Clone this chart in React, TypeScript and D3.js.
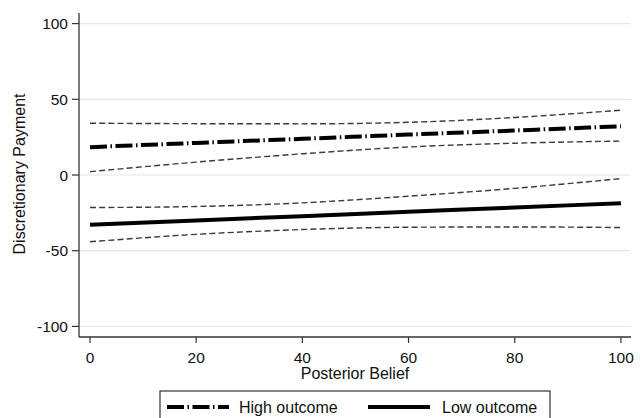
import React from "react";
import * as d3 from "d3";

const beliefs = [0, 20, 40, 60, 80, 100];
const highMean = [18.4, 21.2, 23.9, 26.7, 29.4, 32.2];
const highUpper = [34.2, 33.9, 33.8, 34.8, 38.0, 42.8];
const highLower = [2.2, 8.5, 14.0, 18.5, 21.0, 22.4];
const lowMean = [-32.9, -30.0, -27.2, -24.3, -21.5, -18.6];
const lowUpper = [-21.5, -20.8, -18.4, -14.0, -8.8, -2.4];
const lowLower = [-44.1, -39.2, -36.0, -34.5, -34.3, -34.7];
const xTicks = [0, 20, 40, 60, 80, 100];
const yTicks = [-100, -50, 0, 50, 100];
const legendLabels = ["High outcome", "Low outcome"];

const W = 640;
const H = 418;
const FONT = "Liberation Sans, Arial, Helvetica, sans-serif";

export default function App() {
  const x = d3.scaleLinear().domain([-2.07, 101.9]).range([79, 631]);
  const y = d3.scaleLinear().domain([-107, 107]).range([337, 13]);

  const line = d3
    .line<number>()
    .x((_, i) => x(beliefs[i]))
    .y((d) => y(d))
    .curve(d3.curveMonotoneX);

  const ciStyle = {
    fill: "none",
    stroke: "#3a3a3a",
    strokeWidth: 1.4,
    strokeDasharray: "6,3.2",
  };
  const highDash = "17,3.5,1.5,3.5";

  return (
    <svg
      width={W}
      height={H}
      style={{ position: "absolute", left: 0, top: 0, background: "#fff" }}
      fontFamily={FONT}
    >
      <rect x={0} y={0} width={W} height={H} fill="#fff" />
      {/* gridlines */}
      {yTicks.map((t) => (
        <line
          key={"g" + t}
          x1={79}
          x2={631}
          y1={y(t)}
          y2={y(t)}
          stroke="#e6e6e6"
          strokeWidth={1.2}
        />
      ))}
      {/* CI lines */}
      <path d={line(highUpper) || ""} {...ciStyle} />
      <path d={line(highLower) || ""} {...ciStyle} />
      <path d={line(lowUpper) || ""} {...ciStyle} />
      <path d={line(lowLower) || ""} {...ciStyle} />
      {/* means */}
      <path
        d={line(highMean) || ""}
        fill="none"
        stroke="#000"
        strokeWidth={4}
        strokeDasharray={highDash}
      />
      <path d={line(lowMean) || ""} fill="none" stroke="#000" strokeWidth={4} />
      {/* axes */}
      <line x1={79} x2={79} y1={13} y2={337} stroke="#333" strokeWidth={1.3} />
      <line x1={79} x2={631} y1={337} y2={337} stroke="#333" strokeWidth={1.3} />
      {yTicks.map((t) => (
        <g key={"y" + t}>
          <line x1={72} x2={79} y1={y(t)} y2={y(t)} stroke="#333" strokeWidth={1.2} />
          <text
            x={68}
            y={y(t)}
            dy="0.36em"
            textAnchor="end"
            fontSize={15.5}
            fill="#111"
          >
            {t}
          </text>
        </g>
      ))}
      {xTicks.map((t) => (
        <g key={"x" + t}>
          <line x1={x(t)} x2={x(t)} y1={337} y2={343} stroke="#333" strokeWidth={1.2} />
          <text x={x(t)} y={363} textAnchor="middle" fontSize={15.5} fill="#111">
            {t}
          </text>
        </g>
      ))}
      <text x={355} y={378.5} textAnchor="middle" fontSize={16} fill="#111">
        Posterior Belief
      </text>
      <text
        transform={`translate(24.5,174) rotate(-90)`}
        textAnchor="middle"
        fontSize={16}
        fill="#111"
      >
        Discretionary Payment
      </text>
      {/* legend */}
      <rect x={160} y={391} width={390} height={40} fill="#fff" stroke="#333" strokeWidth={1.2} />
      <line
        x1={167}
        x2={229}
        y1={407}
        y2={407}
        stroke="#000"
        strokeWidth={4}
        strokeDasharray={highDash}
      />
      <text x={239} y={412.5} fontSize={16} fill="#111">
        {legendLabels[0]}
      </text>
      <line x1={368} x2={430} y1={407} y2={407} stroke="#000" strokeWidth={4} />
      <text x={442} y={412.5} fontSize={16} fill="#111">
        {legendLabels[1]}
      </text>
    </svg>
  );
}
